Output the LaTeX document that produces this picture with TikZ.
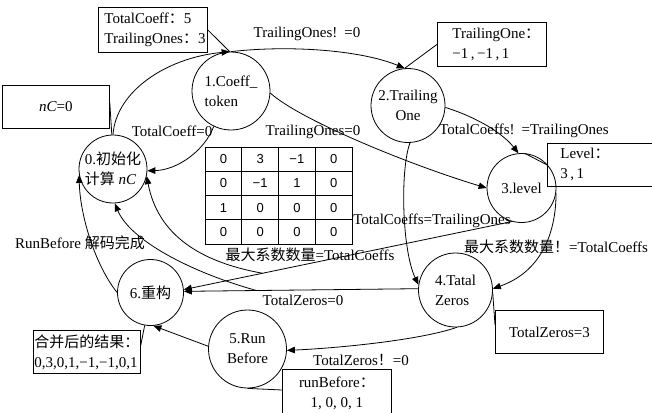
\documentclass[tikz,border=0pt]{standalone}
\usepackage{fontspec}
\setmainfont{Liberation Serif}
\newfontfamily\cjk{Noto Sans CJK SC}
\newfontfamily\tabfont{Liberation Sans}
\usetikzlibrary{arrows.meta,calc}

\begin{document}
\begin{tikzpicture}[x=1pt,y=-1pt,
  every node/.style={font=\fontsize{15}{20}\selectfont, inner sep=0pt},
  state/.style={draw, circle, line width=0.8pt, inner sep=0pt},
  infobox/.style={draw, rectangle, line width=0.8pt, anchor=north west},
  link/.style={line width=0.8pt, -{Triangle[length=8pt,width=6.5pt]}},
  plain/.style={line width=0.8pt},
  cell/.style={font=\tabfont\fontsize{13}{15}\selectfont}
]
\useasboundingbox (0,0) rectangle (652,412);
\clip (0,0) rectangle (652,412);

% decoder states
\node[state, minimum size=68pt, align=left]   (c0) at (113,169)     {0.{\cjk 初始化}\\{\cjk 计算} \textit{nC}};
\node[state, minimum size=78pt, align=left]   (c1) at (231,91)      {1.Coeff\_\\token};
\node[state, minimum size=74pt, align=center] (c2) at (408,105.5)   {2.Trailing\\One};
\node[state, minimum size=69pt]               (c3) at (521.5,188)   {3.level};
\node[state, minimum size=74pt, align=left]   (c4) at (455.5,290)   {4.Tatal\\Zeros};
\node[state, minimum size=78pt, align=center] (c5) at (247.5,349)   {5.Run\\Before};
\node[state, minimum size=66pt]               (c6) at (150.5,292.5) {6.{\cjk 重构}};

% value boxes
\node[infobox, minimum width=109pt, minimum height=45pt, text width=97pt, inner xsep=6pt, align=left]
  (b1) at (98,7) {TotalCoeff{\cjk ：}5\\TrailingOnes{\cjk ：}3};
\node[infobox, minimum width=107pt, minimum height=43pt] (b2) at (2,85) {\textit{nC}=0};
\node[infobox, minimum width=109pt, minimum height=44pt, text width=79pt, inner xsep=15pt, align=left]
  (b3) at (437,22) {TrailingOne{\cjk ：}\\−1\,,\,−1\,,\,1};
\node[infobox, minimum width=118pt, minimum height=43pt, text width=92pt, inner xsep=13pt, align=left]
  (b4) at (547,143) {Level{\cjk ：}\\3\,,\,1};
\node[infobox, minimum width=108pt, minimum height=43pt] (b5) at (495,310) {TotalZeros=3};
\node[infobox, minimum width=107pt, minimum height=43pt, text width=105pt, inner xsep=1pt, align=left]
  (b6) at (33,330) {{\cjk 合并后的结果：}\\0,3,0,1,−1,−1,0,1};
\node[infobox, minimum width=109pt, minimum height=47pt, align=center]
  (b7) at (282,369) {runBefore{\cjk ：}\\1, 0, 0, 1};

% box callout lines
\draw[plain] (b1.east) -- (c1.92);
\draw[plain] ([yshift=4pt]b2.east) -- (c0.92);
\draw[plain] (b3.west) -- (c2.95);
\draw[plain] (b4.west) -- (c3.85);
\draw[plain] (c4.-5) -- ([yshift=-15pt]b5.north west);
\draw[plain] ([yshift=-15pt]b6.north east) -- (c6.-100);
\draw[plain] (c5.-90) -- ([yshift=-21pt]b7.north west);

% transitions
\draw[link] (c0.90) .. controls (116,92) and (165,58) .. (c1.92);
\draw[link] (c1.90) .. controls (290,45) and (360,50) .. (c2.95);
\draw[link] (c1.-116) .. controls (205,150) and (178,170) .. (c0.-3);
\draw[link] (c1.-3) .. controls (300,120) and (410,165) .. (c3.180);
\draw[link] (c2.-3) .. controls (470,115) and (500,130) .. (c3.95);
\draw[link] (c2.-87) .. controls (400,170) and (402,250) .. (c4.172);
\draw[link] (c3.-8) .. controls (556,235) and (540,272) .. (c4.2);
\draw[link] (c3.-106) -- (c6.5);
\draw[link] (c4.178) -- (c6.2);
\draw[link] (c4.-88) .. controls (420,340) and (340,348) .. (c5.-2);
\draw[link] (c5.176) -- (c6.-85);
\draw[link] (c6.180) .. controls (95,265) and (80,215) .. (c0.190);
\coordinate (h1) at ($(c3.-106)!0.76!(c6.5)$);
\coordinate (h2) at ($(c4.178)!0.69!(c6.2)$);
\draw[link] (h1) .. controls (200,262) and (158,235) .. (c0.-12);
\draw[link] (h2) .. controls (190,272) and (130,240) .. (c0.-87);

% transition labels
\node (l12)  at (307,34)  {TrailingOnes!\hspace{7pt}=0};
\node (l10)  at (172,131) {TotalCoeff=0};
\node (l13)  at (313,132) {TrailingOnes=0};
\node (l23)  at (524,131) {TotalCoeffs!\hspace{7pt}=TrailingOnes};
\node (l24)  at (432,221) {TotalCoeffs=TrailingOnes};
\node (l36)  at (310,255) {{\cjk 最大系数数量}=TotalCoeffs};
\node[anchor=west] (l34) at (464,247) {{\cjk 最大系数数量！}=TotalCoeffs};
\node (l60)  at (80,243)  {RunBefore {\cjk 解码完成}};
\node (l46)  at (303,300) {TotalZeros=0};
\node (l45)  at (361,360) {TotalZeros{\cjk ！}=0};

% coefficient block
\draw[plain] (205,147) rectangle (352,244);
\foreach \xx in {241.75,278.5,315.25} \draw[plain] (\xx,147) -- (\xx,244);
\foreach \yy in {171.25,219.75} \draw[plain] (205,\yy) -- (352,\yy);
\draw[line width=1.8pt] (205,195.5) -- (352,195.5);
\foreach [count=\i] \row in {{0,3,−1,0},{0,−1,1,0},{1,0,0,0},{0,0,0,0}} {
  \foreach [count=\j] \v in \row {
    \node[cell] (t\i\j) at (205+36.75*\j-18.375, 147+24.25*\i-12.125) {\v};
  }
}
\end{tikzpicture}
\end{document}
